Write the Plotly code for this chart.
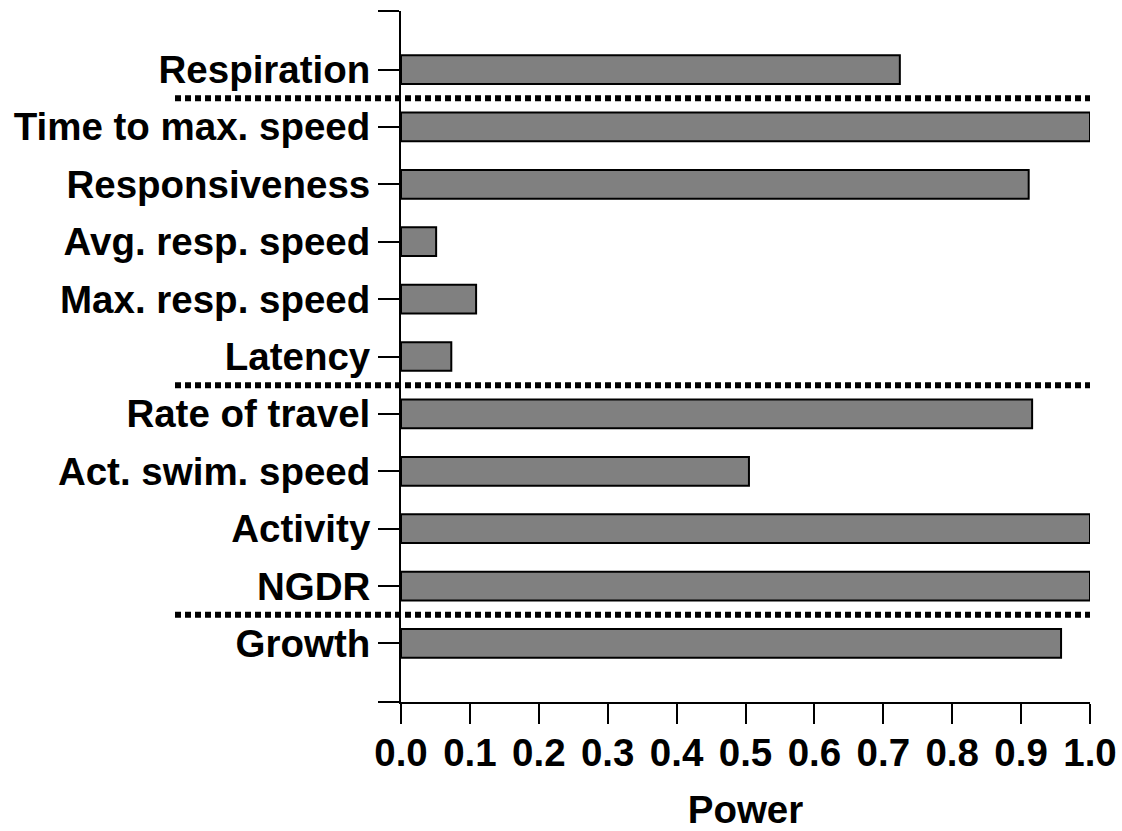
import plotly.graph_objects as go

# Data (bottom to top)
categories = ["Growth", "NGDR", "Activity", "Act. swim. speed", "Rate of travel",
              "Latency", "Max. resp. speed", "Avg. resp. speed", "Responsiveness",
              "Time to max. speed", "Respiration"]
power = [0.958, 1.0, 1.0, 0.505, 0.916, 0.073, 0.109, 0.051, 0.911, 1.0, 0.724]
# group separators lie between these category positions
separators = [0.5, 4.5, 9.5]
x_ticks = [0.0, 0.1, 0.2, 0.3, 0.4, 0.5, 0.6, 0.7, 0.8, 0.9, 1.0]

n = len(categories)
pos = list(range(n))
yrange = [-1.02, n - 1 + 1.02]

FONT = dict(family="Liberation Sans, Arial, sans-serif", size=38.5, color="black", weight="bold")

fig = go.Figure()
fig.add_trace(go.Bar(
    x=power, y=pos, orientation="h", width=0.5,
    marker=dict(color="#808080", line=dict(color="black", width=2)),
    cliponaxis=False, showlegend=False, hoverinfo="x+y",
))

for s in separators:
    fig.add_shape(type="line", xref="paper", yref="y",
                  x0=-0.328, x1=1.0, y0=s, y1=s,
                  line=dict(color="black", width=6, dash="6px,4px"))

fig.update_layout(
    width=1122, height=831,
    margin=dict(l=401, r=32, t=11, b=129, autoexpand=False),
    paper_bgcolor="white", plot_bgcolor="white",
    font=FONT,
    xaxis=dict(
        range=[0, 1], tickvals=x_ticks, tickformat=".1f",
        ticks="outside", ticklen=20, tickwidth=2, tickcolor="black",
        showline=True, linewidth=2, linecolor="black",
        showgrid=False, zeroline=False, automargin=False,
        tickfont=FONT, ticklabelstandoff=-4,
        title=dict(text="Power", font=FONT, standoff=24),
    ),
    yaxis=dict(
        range=yrange,
        tickvals=[yrange[0]] + pos + [yrange[1]],
        ticktext=[""] + categories + [""],
        ticks="outside", ticklen=21, tickwidth=2, tickcolor="black",
        showline=True, linewidth=2, linecolor="black",
        showgrid=False, zeroline=False, automargin=False,
        tickfont=FONT,
    ),
)

fig.write_html("out.html")
